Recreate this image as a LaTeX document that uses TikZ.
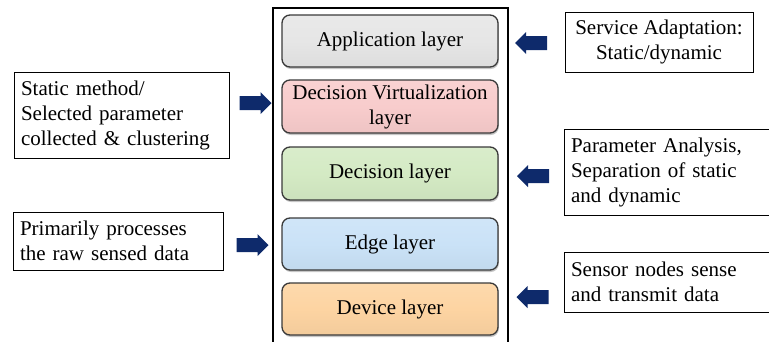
\documentclass[tikz,border=0pt]{standalone}
\usepackage{fontspec}
\setmainfont{Liberation Serif}
\usetikzlibrary{shapes.arrows,shadows}

\definecolor{navy}{HTML}{0E2A6B}
\definecolor{edgegray}{HTML}{3A3A3A}
\definecolor{appfill}{HTML}{E6E6E6}
\definecolor{dvfill}{HTML}{F8CCCC}
\definecolor{decfill}{HTML}{D4EAC4}
\definecolor{edgefill}{HTML}{CAE2F7}
\definecolor{devfill}{HTML}{FDD4A2}

\tikzset{
  layerbox/.style={draw=edgegray, line width=1.3pt, rounded corners=8pt,
    minimum width=216pt, minimum height=52pt, inner sep=2pt,
    align=center, font=\fontsize{21}{25}\selectfont,
    top color=#1!88!white, bottom color=#1!96!black, middle color=#1,
    drop shadow={shadow xshift=0.8pt, shadow yshift=-2pt, opacity=0.45}},
  notebox/.style={draw=black, line width=0.9pt, inner xsep=7pt, inner ysep=2pt,
    font=\fontsize{21}{25}\selectfont},
  blockarrow/.style={single arrow, fill=navy, draw=none, inner xsep=0pt,
    inner ysep=6.8pt, minimum height=32pt, single arrow head extend=4pt,
    single arrow head indent=0pt},
}

\begin{document}
\begin{tikzpicture}[x=1pt,y=-1pt]
  \useasboundingbox (0,0) rectangle (769,341);
  \clip (0,0) rectangle (769,341);

  % frame around the layer stack
  \draw[line width=1.1pt] (273,360) -- (273,8) -- (508,8) -- (508,360);

  % layers
  \node[layerbox=appfill]  (app)  at (390,41)  {Application layer};
  \node[layerbox=dvfill, minimum height=53pt]   (dv)   at (390,106.5) {Decision Virtualization\\layer};
  \node[layerbox=decfill, minimum height=53pt]  (dec)  at (390,173.5) {Decision layer};
  \node[layerbox=edgefill] (edge) at (390,244)  {Edge layer};
  \node[layerbox=devfill]  (dev)  at (390,309)  {Device layer};

  % descriptions on the left
  \node[notebox, minimum width=215pt, minimum height=86pt, text width=201pt, align=left]
    (static) at (121.5,115) {Static method/\\Selected parameter\\collected \& clustering};
  \node[notebox, minimum width=210pt, minimum height=58pt, text width=196pt, align=left]
    (raw) at (118,241) {Primarily processes\\the raw sensed data};

  % descriptions on the right
  \node[notebox, minimum width=188pt, minimum height=60pt, align=center]
    (service) at (659,42) {Service Adaptation:\\Static/dynamic};
  \node[notebox, minimum width=240pt, minimum height=86pt, text width=226pt, align=left]
    (param) at (684,172) {Parameter Analysis,\\Separation of static\\and dynamic};
  \node[notebox, minimum width=240pt, minimum height=60pt, text width=226pt, align=left]
    (sensor) at (684,282) {Sensor nodes sense\\and transmit data};

  % block arrows
  \node[blockarrow] (a1) at (252,103) {};
  \node[blockarrow] (a2) at (249,245) {};
  \node[blockarrow, shape border rotate=180] (a3) at (534.5,43) {};
  \node[blockarrow, shape border rotate=180] (a4) at (536.5,176) {};
  \node[blockarrow, shape border rotate=180] (a5) at (536,297) {};
\end{tikzpicture}
\end{document}
